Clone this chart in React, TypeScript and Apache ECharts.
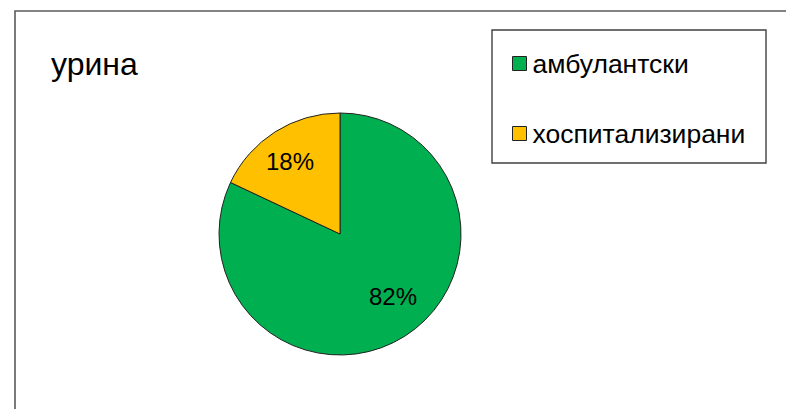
import React, { useEffect, useRef } from "react";
import * as echarts from "echarts";

const titleText = "урина";
const categories = ["амбулантски", "хоспитализирани"];
const values = [82, 18];
const colors = ["#00B050", "#FFC000"];
const labelOffsets: [number, number][] = [[19, 9], [-16, -19]];

const FONT = "'Liberation Sans', Arial, sans-serif";

export default function App() {
  const ref = useRef<HTMLDivElement>(null);
  useEffect(() => {
    if (!ref.current) return;
    const chart = echarts.init(ref.current, undefined, { renderer: "svg" });
    chart.setOption({
      animation: false,
      backgroundColor: "#ffffff",
      title: {
        text: titleText,
        left: 51,
        top: 48,
        padding: 0,
        textStyle: { fontFamily: FONT, fontSize: 32, fontWeight: "normal", color: "#000", lineHeight: 32 },
      },
      legend: {
        orient: "vertical",
        left: 512,
        top: 50,
        padding: 0,
        itemGap: 43,
        itemWidth: 14,
        itemHeight: 14,
        icon: "rect",
        itemStyle: { borderColor: "#222", borderWidth: 1 },
        textStyle: { fontFamily: FONT, fontSize: 26.5, color: "#000", lineHeight: 26, padding: [0, 0, 0, 1] },
        data: categories,
        selectedMode: false,
      },
      graphic: [
        {
          type: "rect",
          shape: { x: 15, y: 11, width: 820, height: 450 },
          style: { fill: "none", stroke: "#5a5a5a", lineWidth: 1.6 },
          silent: true,
          z: 0,
        },
        {
          type: "rect",
          shape: { x: 492, y: 30, width: 274, height: 133 },
          style: { fill: "none", stroke: "#404040", lineWidth: 1.4 },
          silent: true,
          z: 0,
        },
      ],
      series: [
        {
          type: "pie",
          center: [340, 234],
          radius: 121,
          startAngle: 90,
          clockwise: true,
          avoidLabelOverlap: false,
          itemStyle: { borderColor: "#222", borderWidth: 1 },
          labelLine: { show: false },
          emphasis: { disabled: true },
          data: categories.map((name, i) => ({
            name,
            value: values[i],
            itemStyle: { color: colors[i] },
            label: {
              show: true,
              position: "inside",
              formatter: "{c}%",
              offset: labelOffsets[i],
              fontFamily: FONT,
              fontSize: 24,
              color: "#000",
            },
          })),
        },
      ],
    });
    return () => chart.dispose();
  }, []);
  return (
    <div
      ref={ref}
      style={{ position: "fixed", left: 0, top: 0, width: 786, height: 409 }}
    />
  );
}
